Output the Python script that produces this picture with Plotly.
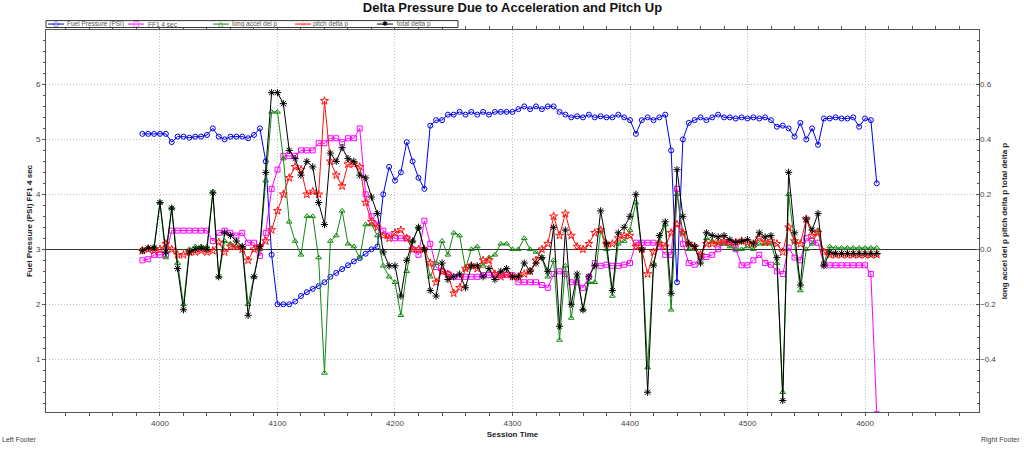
import plotly.graph_objects as go

# ---------------- data ----------------
session_time = list(range(3985, 4611, 5))

fuel_pressure = [
    5.10, 5.10, 5.10, 5.10, 5.10, 4.95, 5.05, 5.05, 5.03, 5.05,
    5.05, 5.08, 5.20, 5.05, 5.00, 5.05, 5.05, 5.05, 5.02, 5.08,
    5.20, 4.60, 2.90, 2.00, 2.00, 2.00, 2.05, 2.15, 2.22, 2.28,
    2.33, 2.40, 2.50, 2.57, 2.64, 2.71, 2.78, 2.84, 2.92, 3.00,
    3.05, 4.00, 4.50, 4.25, 4.40, 4.95, 4.60, 4.30, 4.10, 5.25,
    5.35, 5.35, 5.45, 5.45, 5.50, 5.45, 5.50, 5.45, 5.50, 5.45,
    5.50, 5.50, 5.50, 5.50, 5.55, 5.60, 5.55, 5.60, 5.55, 5.60,
    5.60, 5.50, 5.45, 5.40, 5.42, 5.40, 5.45, 5.40, 5.42, 5.40,
    5.40, 5.45, 5.40, 5.35, 5.10, 5.35, 5.40, 5.35, 5.40, 5.45,
    4.80, 2.40, 5.00, 5.30, 5.35, 5.40, 5.35, 5.40, 5.45, 5.40,
    5.40, 5.38, 5.40, 5.38, 5.40, 5.38, 5.40, 5.35, 5.23, 5.25,
    5.20, 5.05, 5.30, 5.00, 5.20, 4.90, 5.38, 5.38, 5.40, 5.38,
    5.38, 5.40, 5.23, 5.38, 5.35, 4.20,
]

ff1_4sec = [
    2.80, 2.82, 2.90, 2.90, 2.90, 3.34, 3.34, 3.34, 3.34, 3.34,
    3.34, 3.34, 3.15, 3.30, 3.34, 3.30, 3.25, 3.30, 3.12, 3.12,
    2.88, 3.30, 4.10, 4.45, 4.70, 4.70, 4.70, 4.80, 4.80, 4.80,
    4.93, 4.93, 5.02, 5.02, 4.95, 5.02, 5.02, 5.20, 4.00, 3.60,
    3.45, 3.34, 3.25, 3.20, 3.20, 3.20, 3.00, 2.90, 3.52, 3.10,
    2.68, 2.60, 2.55, 2.50, 2.50, 2.50, 2.50, 2.50, 2.53, 2.53,
    2.53, 2.53, 2.53, 2.53, 2.40, 2.40, 2.40, 2.40, 2.35, 2.30,
    2.55, 2.60, 2.55, 2.40, 2.40, 2.30, 2.50, 2.75, 2.70, 2.72,
    2.70, 2.70, 2.72, 2.75, 3.12, 3.12, 3.12, 3.12, 3.05, 2.90,
    2.90, 4.10, 3.10, 2.75, 2.72, 2.86, 2.86, 2.90, 3.00, 3.12,
    3.12, 3.00, 2.71, 2.71, 2.80, 2.90, 2.75, 2.72, 2.60, 2.55,
    3.03, 2.85, 2.80, 3.20, 3.15, 3.12, 2.73, 2.71, 2.71, 2.71,
    2.71, 2.71, 2.71, 2.71, 2.55, 0.00,
]

long_accel_del_p = [
    0.000, 0.005, 0.010, 0.170, -0.030, 0.150, -0.050, -0.200, 0.000, 0.010,
    0.010, 0.010, 0.210, -0.100, 0.030, 0.020, 0.010, 0.010, -0.200, -0.100,
    0.000, 0.250, 0.500, 0.500, 0.330, 0.100, 0.030, -0.020, 0.120, 0.120,
    -0.030, -0.450, 0.030, 0.050, 0.140, 0.020, 0.010, -0.030, 0.090, 0.090,
    0.050, -0.060, -0.100, -0.120, -0.240, -0.080, 0.030, 0.080, 0.000, -0.100,
    -0.050, 0.030, -0.020, 0.060, 0.050, -0.070, 0.000, 0.010, -0.060, -0.030,
    -0.020, 0.020, 0.020, 0.000, 0.000, 0.040, 0.000, -0.010, -0.030, -0.100,
    -0.040, -0.330, -0.060, -0.250, -0.100, -0.220, -0.120, -0.120, 0.070, 0.000,
    -0.170, 0.020, 0.030, 0.070, 0.170, 0.000, -0.430, -0.050, 0.030, 0.090,
    -0.220, 0.200, 0.060, 0.000, 0.000, -0.030, 0.040, 0.030, 0.020, 0.020,
    0.010, 0.000, 0.000, 0.010, 0.000, 0.020, 0.020, 0.020, -0.050, -0.520,
    0.200, 0.030, -0.150, 0.000, 0.020, 0.070, -0.050, 0.010, 0.005, 0.005,
    0.005, 0.005, 0.005, 0.005, 0.005, 0.005,
]

pitch_delta_p = [
    -0.005, 0.000, -0.005, 0.000, 0.020, 0.000, -0.020, -0.020, -0.010, -0.010,
    -0.005, -0.010, -0.005, 0.025, -0.010, 0.010, 0.010, 0.000, -0.040, 0.000,
    0.010, 0.030, 0.070, 0.140, 0.200, 0.260, 0.300, 0.290, 0.200, 0.210,
    0.200, 0.540, 0.320, 0.270, 0.230, 0.310, 0.310, 0.300, 0.170, 0.100,
    0.080, 0.050, 0.040, 0.060, 0.070, 0.040, 0.000, 0.000, 0.000, -0.050,
    -0.120, -0.080, -0.090, -0.160, -0.140, -0.070, -0.060, -0.070, -0.040, -0.040,
    -0.090, -0.100, -0.090, -0.100, -0.100, -0.090, -0.080, -0.040, 0.000, 0.020,
    0.120, 0.050, 0.130, 0.050, 0.010, 0.000, 0.020, 0.060, 0.070, 0.020,
    0.020, 0.040, 0.050, 0.050, 0.010, 0.000, -0.090, -0.010, 0.020, 0.010,
    0.060, 0.090, 0.060, 0.020, 0.010, -0.020, 0.020, 0.020, 0.025, 0.030,
    0.025, 0.025, 0.030, 0.025, 0.020, 0.040, 0.025, 0.030, 0.020, -0.010,
    0.080, 0.030, 0.020, 0.110, 0.050, 0.060, -0.010, -0.020, -0.020, -0.020,
    -0.020, -0.020, -0.020, -0.020, -0.020, -0.020,
]

total_delta_p = [
    -0.005, 0.005, 0.005, 0.170, -0.010, 0.150, -0.070, -0.220, -0.010, 0.000,
    0.005, 0.000, 0.205, -0.100, 0.060, 0.050, 0.030, 0.010, -0.240, -0.100,
    0.010, 0.280, 0.570, 0.570, 0.530, 0.360, 0.330, 0.270, 0.320, 0.300,
    0.170, 0.090, 0.350, 0.320, 0.370, 0.330, 0.320, 0.270, 0.260, 0.190,
    0.130, -0.010, -0.060, -0.060, -0.170, -0.040, 0.030, 0.080, 0.000, -0.150,
    -0.170, -0.050, -0.110, -0.100, -0.090, -0.140, -0.060, -0.060, -0.100, -0.070,
    -0.110, -0.080, -0.070, -0.100, -0.100, -0.050, -0.080, -0.050, -0.030, -0.080,
    0.080, -0.280, 0.070, -0.200, -0.090, -0.220, -0.100, -0.060, 0.140, 0.020,
    -0.150, 0.060, 0.080, 0.120, 0.200, 0.000, -0.520, -0.060, 0.050, 0.100,
    -0.160, 0.290, 0.120, 0.020, 0.010, -0.050, 0.060, 0.050, 0.045, 0.050,
    0.035, 0.025, 0.030, 0.035, 0.020, 0.060, 0.045, 0.050, -0.030, -0.550,
    0.280, 0.060, -0.130, 0.110, 0.070, 0.130, -0.060, -0.010, -0.015, -0.015,
    -0.015, -0.015, -0.015, -0.015, -0.015, -0.015,
]

x_ticks = [4000, 4100, 4200, 4300, 4400, 4500, 4600]
y1_ticks = [1, 2, 3, 4, 5, 6]
y2_ticks = [-0.4, -0.2, 0.0, 0.2, 0.4, 0.6]

# ---------------- styling ----------------
FONT = "Arial, Liberation Sans, sans-serif"
AX = "#555555"
GRID = "#bdbdbd"

series = [
    ("Fuel Pressure (PSI)", fuel_pressure, "y", "#0000ee", "circle-open", 5, "○"),
    ("FF1 4 sec", ff1_4sec, "y", "#ff00ff", "square-open", 5, "□"),
    ("long accel del p", long_accel_del_p, "y2", "#118811", "triangle-up-open", 5, "△"),
    ("pitch delta p", pitch_delta_p, "y2", "#ff1010", "star-open", 6, "☆"),
    ("total delta p", total_delta_p, "y2", "#000000", "asterisk-open", 6, "✱"),
]

fig = go.Figure()
for name, vals, yax, col, sym, sz, _g in series:
    fig.add_trace(go.Scatter(
        x=session_time, y=vals, name=name, yaxis=yax, mode="lines+markers",
        line=dict(color=col, width=1),
        marker=dict(symbol=sym, size=sz, color=col, line=dict(color=col, width=1)),
        showlegend=False,
    ))

# plot-area geometry in pixels (for the compact legend box and footers)
L, T, W, H = 46, 30, 933, 386


def xp(px):
    return (px - L) / W


def yp(py):
    return (T + H - py) / H


shapes = [dict(type="rect", xref="paper", yref="paper",
               x0=xp(46), x1=xp(458), y0=yp(27.5), y1=yp(20.5),
               line=dict(color="#333333", width=1), fillcolor="white")]
annotations = []
legend_pos = [(48, 66), (128, 147), (213, 231), (295, 312), (377, 396)]
for (name, _v, _y, col, _s, _z, glyph), (sx, tx) in zip(series, legend_pos):
    shapes.append(dict(type="line", xref="paper", yref="paper",
                       x0=xp(sx), x1=xp(sx + 16), y0=yp(24), y1=yp(24),
                       line=dict(color=col, width=1)))
    annotations.append(dict(text=glyph, xref="paper", yref="paper",
                            x=xp(sx + 8), y=yp(24), xanchor="center", yanchor="middle",
                            showarrow=False, borderpad=0,
                            font=dict(family="DejaVu Sans", size=7, color=col)))
    annotations.append(dict(text=name, xref="paper", yref="paper",
                            x=xp(tx), y=yp(24), xanchor="left", yanchor="middle",
                            showarrow=False, borderpad=0,
                            font=dict(family=FONT, size=6.5, color="#555555")))

annotations += [
    dict(text="Left Footer", xref="paper", yref="paper",
         x=xp(0), y=yp(444), xanchor="left", yanchor="middle",
         showarrow=False, font=dict(size=7, color="#444444")),
    dict(text="Right Footer", xref="paper", yref="paper",
         x=xp(1022), y=yp(444), xanchor="right", yanchor="middle",
         showarrow=False, font=dict(size=7, color="#444444")),
]

y1_lo, y1_hi = 0.04, 6.99
fig.update_layout(
    width=1024, height=449,
    margin=dict(l=L, r=1024 - L - W, t=T, b=449 - T - H),
    paper_bgcolor="white", plot_bgcolor="white",
    font=dict(family=FONT, size=8, color="#333333"),
    title=dict(text="<b>Delta Pressure Due to Acceleration and Pitch Up</b>",
               x=0.5, xref="paper", y=1 - 7 / 449, yref="container",
               xanchor="center", yanchor="middle",
               font=dict(family=FONT, size=13, color="#111111")),
    showlegend=False,
    xaxis=dict(range=[3903, 4697], tickvals=x_ticks,
               showgrid=True, gridcolor=GRID, griddash="1px,2px", gridwidth=1,
               showline=True, linecolor=AX, linewidth=1, mirror="ticks",
               ticks="outside", ticklen=3, tickcolor=AX,
               minor=dict(dtick=20, tick0=4000, ticks="outside", ticklen=3,
                          tickcolor=AX, showgrid=False),
               tickfont=dict(size=8, color="#444444"), zeroline=False,
               title=dict(text="<b>Session Time</b>", font=dict(size=8, color="#222222"),
                          standoff=4)),
    yaxis=dict(range=[y1_lo, y1_hi], tickvals=y1_ticks,
               showgrid=True, gridcolor=GRID, griddash="1px,2px", gridwidth=1,
               showline=True, linecolor=AX, linewidth=1, mirror=True,
               ticks="outside", ticklen=3, tickcolor=AX,
               minor=dict(dtick=0.2, tick0=0, ticks="outside", ticklen=2,
                          tickcolor=AX, showgrid=False),
               tickfont=dict(size=8, color="#444444"), zeroline=False,
               title=dict(text="<b>Fuel Pressure (PSI) FF1 4 sec</b>",
                          font=dict(size=8, color="#222222"), standoff=2)),
    yaxis2=dict(overlaying="y", side="right",
                range=[(y1_lo - 3) / 5, (y1_hi - 3) / 5], tickvals=y2_ticks,
                tickformat=".1f", showgrid=False,
                zeroline=True, zerolinecolor="#333333", zerolinewidth=1,
                showline=False, ticks="inside", ticklen=3, tickcolor=AX,
                minor=dict(dtick=0.04, tick0=0, ticks="inside", ticklen=2,
                           tickcolor=AX, showgrid=False),
                tickfont=dict(size=8, color="#444444"),
                title=dict(text="<b>long accel del p pitch delta p total delta p</b>",
                           font=dict(size=8, color="#222222"), standoff=6)),
    shapes=shapes,
    annotations=annotations,
)

fig.write_html("out.html")
